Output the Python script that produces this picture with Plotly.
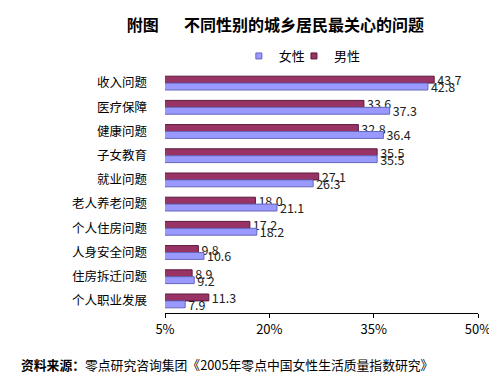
import plotly.graph_objects as go

categories = ["收入问题", "医疗保障", "健康问题", "子女教育", "就业问题",
              "老人养老问题", "个人住房问题", "人身安全问题", "住房拆迁问题", "个人职业发展"]
female = [42.8, 37.3, 36.4, 35.5, 26.3, 21.1, 18.2, 10.6, 9.2, 7.9]
male = [43.7, 33.6, 32.8, 35.5, 27.1, 18.0, 17.2, 9.8, 8.9, 11.3]
x_ticks = [5, 20, 35, 50]
x_ticklabels = ["5%", "20%", "35%", "50%"]

FONT = "Noto Sans CJK SC"
C_F, C_F_LINE = "#9999FF", "#6666bb"
C_M, C_M_LINE = "#993366", "#5a1a3a"

fig = go.Figure()
fig.add_trace(go.Bar(
    y=categories, x=male, orientation="h", name="男性", showlegend=False,
    marker=dict(color=C_M, line=dict(color=C_M_LINE, width=1)),
    text=[f"{v:.1f}" for v in male], textposition="outside",
    textfont=dict(size=12.5, color="#222222", family=FONT),
    constraintext="none", cliponaxis=False,
))
fig.add_trace(go.Bar(
    y=categories, x=female, orientation="h", name="女性", showlegend=False,
    marker=dict(color=C_F, line=dict(color=C_F_LINE, width=1)),
    text=[f"{v:.1f}" for v in female], textposition="outside",
    textfont=dict(size=12.5, color="#222222", family=FONT),
    constraintext="none", cliponaxis=False,
))
# legend entries with small square keys (one legend each, for spacing)
fig.add_trace(go.Scatter(x=[None], y=[None], mode="markers", name="女性", legend="legend",
                         marker=dict(symbol="square", size=6, color=C_F,
                                     line=dict(color=C_F_LINE, width=1))))
fig.add_trace(go.Scatter(x=[None], y=[None], mode="markers", name="男性", legend="legend2",
                         marker=dict(symbol="square", size=6, color=C_M,
                                     line=dict(color=C_M_LINE, width=1))))

leg_common = dict(orientation="h", xanchor="left", y=1.062, yanchor="middle",
                  font=dict(size=13, family=FONT), itemwidth=30,
                  bgcolor="rgba(0,0,0,0)")

fig.update_layout(
    width=497, height=379,
    margin=dict(l=157, r=27, t=63, b=74),
    paper_bgcolor="white", plot_bgcolor="white",
    barmode="group", bargap=0.43, bargroupgap=0,
    font=dict(family=FONT, size=12, color="black"),
    title=dict(text="<b>附图\u00a0\u00a0\u00a0\u00a0\u00a0\u00a0\u00a0不同性别的城乡居民最关心的问题</b>",
               x=0.538, xanchor="center", y=0.953, yanchor="middle",
               font=dict(size=16, family=FONT, color="black")),
    showlegend=True,
    legend=dict(x=0.236, **leg_common),
    legend2=dict(x=0.412, **leg_common),
    xaxis=dict(range=[5, 50], tickvals=x_ticks, ticktext=x_ticklabels,
               showgrid=False, zeroline=False, showline=True, linecolor="black",
               linewidth=1, ticks="outside", ticklen=4, tickcolor="black",
               tickfont=dict(size=13, family=FONT)),
    yaxis=dict(autorange="reversed", showgrid=False, showline=False, ticks="",
               ticklabelstandoff=17, tickfont=dict(size=12.5, family=FONT)),
    annotations=[dict(
        text="<b>资料来源：</b>零点研究咨询集团《2005年零点中国女性生活质量指数研究》",
        xref="paper", yref="paper", x=-0.465, y=-0.213, xanchor="left", yanchor="middle",
        showarrow=False, font=dict(size=12.8, family=FONT, color="black"))],
)

fig.write_html("out.html")
